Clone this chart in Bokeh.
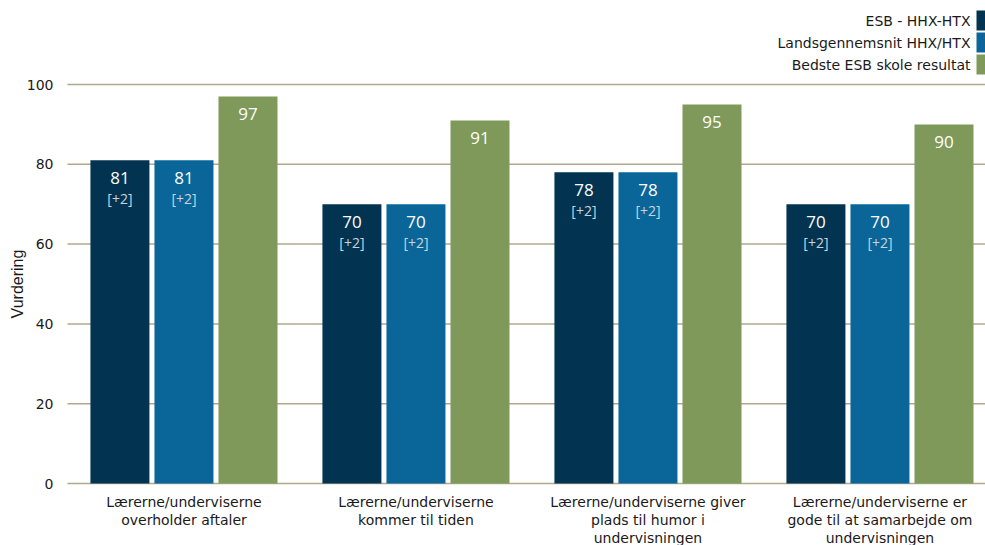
import math
from bokeh.plotting import figure
from bokeh.models import ColumnDataSource, Range1d, BoxAnnotation, Label
from bokeh.core.properties import value
from bokeh.embed import file_html
from bokeh.resources import INLINE

categories = [
    "Lærerne/underviserne\noverholder aftaler",
    "Lærerne/underviserne\nkommer til tiden",
    "Lærerne/underviserne giver\nplads til humor i\nundervisningen",
    "Lærerne/underviserne er\ngode til at samarbejde om\nundervisningen",
]
series_names = ["ESB - HHX-HTX", "Landsgennemsnit HHX/HTX", "Bedste ESB skole resultat"]
esb = [81, 70, 78, 70]
lands = [81, 70, 78, 70]
best = [97, 91, 95, 90]
esb_diff = ["[+2]", "[+2]", "[+2]", "[+2]"]
lands_diff = ["[+2]", "[+2]", "[+2]", "[+2]"]
y_ticks = [0, 20, 40, 60, 80, 100]
y_title = "Vurdering"

colors = ["#023452", "#0a6699", "#7e9959"]
grid_color = "#b1a88e"
text_color = "#1a1a1a"
FONT = "DejaVu Sans"

W, H = 985, 545
LEFT = 67          # pixel column where the plotting area starts
ZERO_PX = 483      # pixel row of value 0
PX_X = 232.0       # pixels per category
PX_Y = 3.99        # pixels per unit
X0 = -0.502        # data x at the plotting-area left edge
X_END = X0 + (W - LEFT) / PX_X

p = figure(width=W, height=H, output_backend="svg", toolbar_location=None,
           x_range=Range1d(X0 - LEFT / PX_X, X_END),
           y_range=Range1d(-(H - ZERO_PX) / PX_Y, ZERO_PX / PX_Y),
           min_border_left=0, min_border_right=0, min_border_top=0, min_border_bottom=0)
p.outline_line_color = None
p.xaxis.visible = False
p.yaxis.visible = False
p.xgrid.grid_line_color = None
p.ygrid.grid_line_color = None

# horizontal gridlines + tick labels + axis title
p.segment(x0=[X0] * len(y_ticks), x1=[X_END] * len(y_ticks), y0=y_ticks, y1=y_ticks,
          line_color=grid_color, line_width=1.5)
p.text(x=[X0] * len(y_ticks), y=y_ticks, text=[str(t) for t in y_ticks],
       x_offset=-14, text_align="right", text_baseline="middle",
       text_font=value(FONT), text_font_size="14px", text_color=text_color)
p.text(x=[X0], y=[50], text=[y_title], x_offset=-50, angle=math.pi / 2,
       text_align="center", text_baseline="middle",
       text_font=value("Liberation Sans"), text_font_size="16px", text_color=text_color)

offsets = [-0.276, 0.0, 0.276]
width = 59 / PX_X
xs = list(range(len(categories)))
all_vals = [esb, lands, best]
for i, vals in enumerate(all_vals):
    src = ColumnDataSource(dict(x=[x + offsets[i] for x in xs], top=vals,
                                lab=[str(v) for v in vals]))
    p.vbar(x="x", top="top", bottom=0, width=width, source=src,
           fill_color=colors[i], line_color=None)
    p.text(x="x", y="top", text="lab", source=src, text_align="center",
           text_baseline="top", y_offset=12, text_color="white",
           text_font=value("Open Sans"), text_font_size="17px")

for i, diffs in enumerate([esb_diff, lands_diff]):
    src = ColumnDataSource(dict(x=[x + offsets[i] for x in xs], top=all_vals[i], lab=diffs))
    p.text(x="x", y="top", text="lab", source=src, text_align="center",
           text_baseline="top", y_offset=29, text_color="#c9d3de",
           text_font=value("Open Sans"), text_font_size="14px")

# category labels below the zero line
for k in range(3):
    lx, lt = [], []
    for i, cat in enumerate(categories):
        lines = cat.split("\n")
        if k < len(lines):
            lx.append(xs[i])
            lt.append(lines[k])
    src = ColumnDataSource(dict(x=lx, y=[0] * len(lx), t=lt))
    p.text(x="x", y="y", text="t", source=src, text_align="center",
           text_baseline="alphabetic", y_offset=18 + 18 * k,
           text_font=value(FONT), text_font_size="14px", text_color=text_color)

# legend (right-aligned text with swatch on the right)
leg_px = [20, 42, 64]
for i, name in enumerate(series_names):
    yy = (ZERO_PX - leg_px[i]) / PX_Y
    p.add_layout(Label(x=X0 + (970 - LEFT) / PX_X, y=yy, text=name, text_align="right",
                       text_baseline="middle", text_font=FONT, text_font_size="14px",
                       text_color=text_color))
    p.add_layout(BoxAnnotation(left=X0 + (976 - LEFT) / PX_X, right=X0 + (996 - LEFT) / PX_X,
                               bottom=yy - 10 / PX_Y, top=yy + 10 / PX_Y,
                               fill_color=colors[i], fill_alpha=1, line_color=None))

open("out.html", "w").write(file_html(p, INLINE))
